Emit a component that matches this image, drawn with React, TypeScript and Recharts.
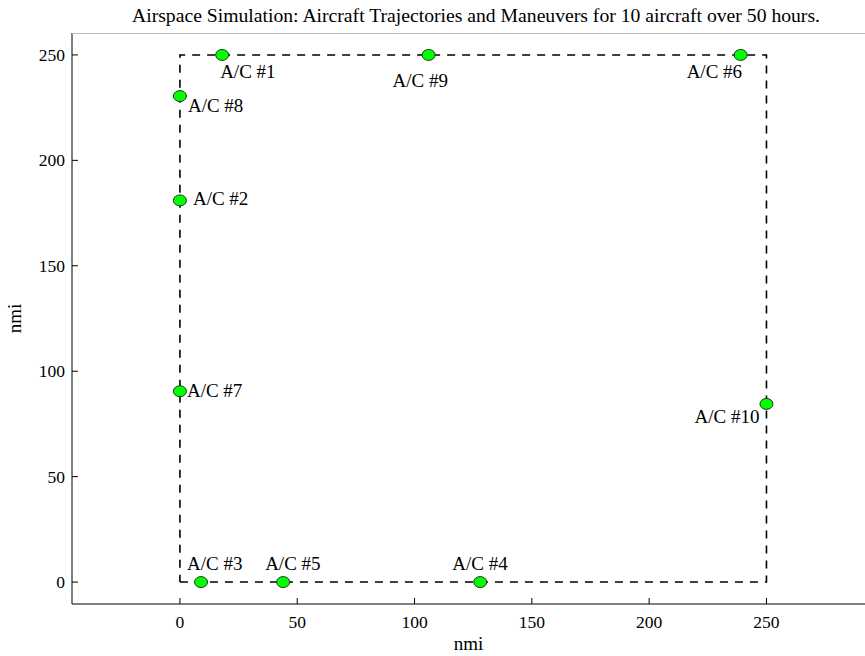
import { ScatterChart, Scatter, XAxis, YAxis } from "recharts";

const title =
  "Airspace Simulation: Aircraft Trajectories and Maneuvers for 10 aircraft over 50 hours.";

// aircraft final positions (nmi)
const aircraftNames = ["A/C #1", "A/C #2", "A/C #3", "A/C #4", "A/C #5", "A/C #6", "A/C #7", "A/C #8", "A/C #9", "A/C #10"];
const aircraftX = [18, 0, 9, 128, 44, 239, 0, 0, 106, 250];
const aircraftY = [250, 181, 0, 0, 0, 250, 90.5, 230.5, 250, 84.5];

// airspace boundary corners
const boundaryX = [0, 250, 250, 0, 0];
const boundaryY = [0, 0, 250, 250, 0];

// axes limits
const xDomain = [-46, 292];
const yDomain = [-10.4, 260.4];

const xTicks = [0, 50, 100, 150, 200, 250];
const yTicks = [0, 50, 100, 150, 200, 250];

// label placement relative to each marker (px)
const labelOffsets: [number, number, "start" | "end"][] = [
  [-2, 23, "start"],
  [13, 5, "start"],
  [-14, -12, "start"],
  [-28, -12, "start"],
  [-18, -12, "start"],
  [-54, 23, "start"],
  [7, 6, "start"],
  [8, 16, "start"],
  [-36, 32, "start"],
  [-7, 19, "end"],
];

const FONT = "'Liberation Serif', 'Times New Roman', serif";

const aircraft = aircraftNames.map((name, i) => ({
  name,
  x: aircraftX[i],
  y: aircraftY[i],
  dx: labelOffsets[i][0],
  dy: labelOffsets[i][1],
  anchor: labelOffsets[i][2],
}));

const boundary = boundaryX.map((x, i) => ({ x, y: boundaryY[i] }));
const topEdge = xDomain.map((x) => ({ x, y: yDomain[1] }));

function AircraftMarker(props: any) {
  const { cx, cy, payload } = props;
  if (cx == null || cy == null) return null;
  return (
    <g>
      <ellipse cx={cx} cy={cy} rx={6.5} ry={5.5} fill="#00ff00" stroke="#1a3a1a" strokeWidth={1} />
      <text
        x={cx + payload.dx}
        y={cy + payload.dy}
        textAnchor={payload.anchor}
        fontFamily={FONT}
        fontSize={19}
        fill="#000"
      >
        {payload.name}
      </text>
    </g>
  );
}

function XTick({ x, y, payload }: any) {
  return (
    <g>
      <line x1={x} x2={x} y1={y} y2={y - 6} stroke="#000" />
      <text x={x} y={y + 24} textAnchor="middle" fontFamily={FONT} fontSize={17.5} fill="#000">
        {payload.value}
      </text>
    </g>
  );
}

function YTick({ x, y, payload }: any) {
  return (
    <g>
      <line x1={x} x2={x + 6} y1={y} y2={y} stroke="#000" />
      <text x={x - 7} y={y + 6} textAnchor="end" fontFamily={FONT} fontSize={17.5} fill="#000">
        {payload.value}
      </text>
    </g>
  );
}

export default function App() {
  return (
    <div style={{ position: "relative", width: 865, height: 656, background: "#fff" }}>
      <style>{"body{margin:0}"}</style>
      <ScatterChart width={865} height={656} margin={{ top: 33, right: 0, bottom: 0, left: 0 }}>
        <XAxis
          type="number"
          dataKey="x"
          domain={xDomain}
          allowDataOverflow
          ticks={xTicks}
          height={52}
          tickSize={0}
          tickMargin={0}
          tickLine={false}
          tick={<XTick />}
          axisLine={{ stroke: "#000" }}
          label={(p: any) => (
            <text
              x={p.viewBox.x + p.viewBox.width / 2}
              y={p.viewBox.y + 46}
              textAnchor="middle"
              fontFamily={FONT}
              fontSize={19}
              fill="#000"
            >
              nmi
            </text>
          )}
        />
        <YAxis
          type="number"
          dataKey="y"
          domain={yDomain}
          allowDataOverflow
          ticks={yTicks}
          width={72}
          tickSize={0}
          tickMargin={0}
          tickLine={false}
          tick={<YTick />}
          axisLine={{ stroke: "#000" }}
          label={(p: any) => {
            const cx = p.viewBox.x + 21;
            const cy = p.viewBox.y + p.viewBox.height / 2;
            return (
              <text
                x={cx}
                y={cy}
                transform={`rotate(-90 ${cx} ${cy})`}
                textAnchor="middle"
                fontFamily={FONT}
                fontSize={19}
                fill="#000"
              >
                nmi
              </text>
            );
          }}
        />
        <Scatter
          data={topEdge}
          line={{ stroke: "#bdbdbd", strokeWidth: 2 }}
          shape={() => <g />}
          isAnimationActive={false}
        />
        <Scatter
          data={boundary}
          line={{ stroke: "#000", strokeWidth: 1.6, strokeDasharray: "8 7" }}
          shape={() => <g />}
          isAnimationActive={false}
        />
        <Scatter data={aircraft} shape={<AircraftMarker />} isAnimationActive={false} />
      </ScatterChart>
      <svg
        width={865}
        height={30}
        style={{ position: "absolute", top: 0, left: 0, pointerEvents: "none", zIndex: 2 }}
      >
        <text
          x={476}
          y={22}
          textAnchor="middle"
          textLength={688}
          lengthAdjust="spacingAndGlyphs"
          fontFamily={FONT}
          fontSize={18}
          fill="#000"
        >
          {title}
        </text>
      </svg>
    </div>
  );
}
